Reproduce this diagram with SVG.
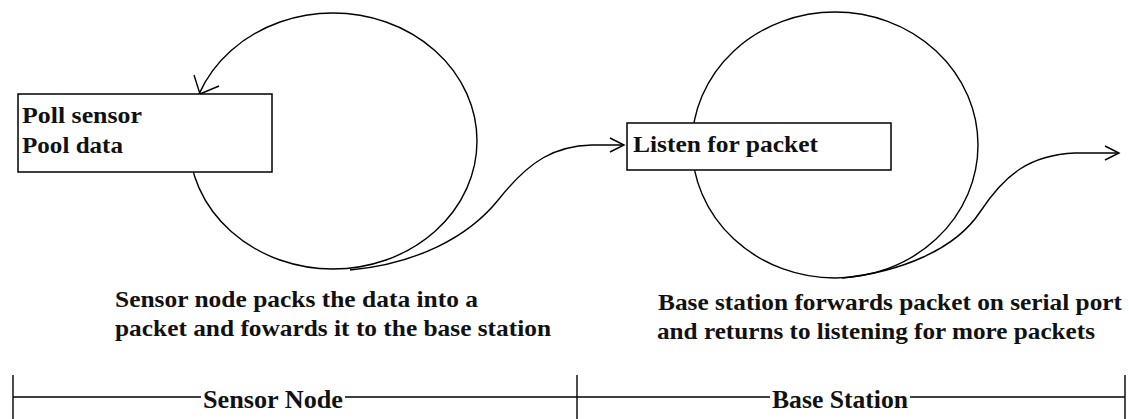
<svg xmlns="http://www.w3.org/2000/svg" width="1129" height="419" viewBox="0 0 1129 419">
<style>
.ln{fill:none;stroke:#000;stroke-width:1.4}
.box{fill:#fff;stroke:#000;stroke-width:1.5}
.t{font-family:"Liberation Serif","Times New Roman",serif;font-weight:bold;font-size:23px;fill:#111}
.d{font-family:"Liberation Serif","Times New Roman",serif;font-weight:bold;font-size:23px;fill:#111}
.s{font-family:"Liberation Serif","Times New Roman",serif;font-weight:bold;font-size:25px;fill:#111}
</style>
<rect width="1129" height="419" fill="#fff"/>
<g id="connectors">
<ellipse class="ln" cx="333" cy="141" rx="144" ry="128"/>
<polyline class="ln" points="194,75 200,94 219,86"/>
<path class="ln" d="M 350 270 C 415 264, 468 238, 499 199 C 530 160, 555 146, 592 145 L 624 145"/>
<polyline class="ln" points="610,138 624,145 610,152"/>
<ellipse class="ln" cx="835" cy="145" rx="143" ry="133"/>
<path class="ln" d="M 842 278 C 900 272, 955 250, 980 212 C 1005 174, 1030 155, 1075 153 L 1119 153"/>
<polyline class="ln" points="1105,146 1119,153 1105,160"/>
</g>
<g id="node-sensor">
<rect class="box" x="18" y="94" width="254" height="78"/>
<text class="t" x="22" y="123" textLength="120" lengthAdjust="spacingAndGlyphs">Poll sensor</text>
<text class="t" x="22" y="153" textLength="101" lengthAdjust="spacingAndGlyphs">Pool data</text>
</g>
<g id="node-base">
<rect class="box" x="627" y="123" width="264" height="47"/>
<text class="t" x="633" y="152" textLength="185" lengthAdjust="spacingAndGlyphs">Listen for packet</text>
</g>
<g id="desc-sensor">
<text class="d" x="115" y="307" textLength="363" lengthAdjust="spacingAndGlyphs">Sensor node packs the data into a</text>
<text class="d" x="115" y="336" textLength="436" lengthAdjust="spacingAndGlyphs">packet and fowards it to the base station</text>
</g>
<g id="desc-base">
<text class="d" x="658" y="310" textLength="464" lengthAdjust="spacingAndGlyphs">Base station forwards packet on serial port</text>
<text class="d" x="657" y="339" textLength="438" lengthAdjust="spacingAndGlyphs">and returns to listening for more packets</text>
</g>
<g id="timeline">
<line class="ln" x1="13" y1="375" x2="13" y2="419"/>
<line class="ln" x1="577" y1="375" x2="577" y2="419"/>
<line class="ln" x1="1125" y1="375" x2="1125" y2="419"/>
<line class="ln" x1="13" y1="397" x2="201" y2="397"/>
<line class="ln" x1="345" y1="397" x2="770" y2="397"/>
<line class="ln" x1="910" y1="397" x2="1125" y2="397"/>
<text class="s" x="203" y="408" textLength="140" lengthAdjust="spacingAndGlyphs">Sensor Node</text>
<text class="s" x="772" y="408" textLength="136" lengthAdjust="spacingAndGlyphs">Base Station</text>
</g>
</svg>
